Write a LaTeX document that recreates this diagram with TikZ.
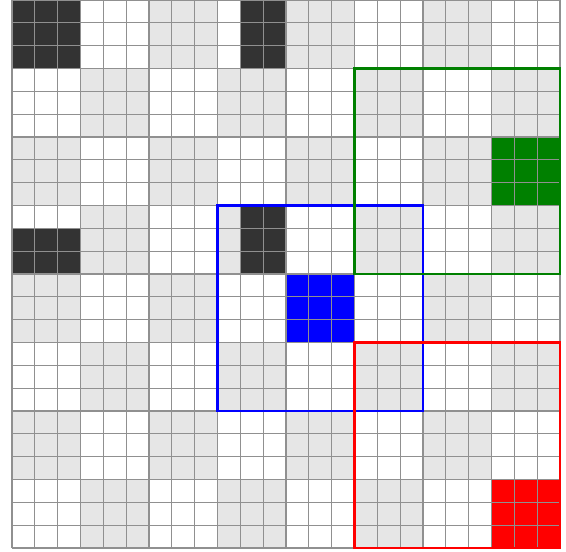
\documentclass[tikz,border=0pt]{standalone}
\definecolor{cellgray}{HTML}{E6E6E6}
\definecolor{celldark}{HTML}{333333}
\definecolor{gridgray}{HTML}{909090}
\definecolor{mygreen}{HTML}{008000}
\tikzset{
  gridline/.style={draw=gridgray, line width=1.5pt},
  regionbox/.style={line width=2.6pt},
}
\begin{document}
\begin{tikzpicture}[x=1cm,y=-1cm]
\useasboundingbox (-0.526,0) rectangle (24.263,24.175);
% checkerboard of 3x3 blocks
\foreach \br in {0,...,7}{
  \foreach \bc in {0,...,7}{
    \pgfmathtruncatemacro{\blockparity}{mod(\br+\bc,2)}
    \ifnum\blockparity=0
      \fill[cellgray] (3*\bc,3*\br) rectangle +(3,3);
    \fi
  }
}
% dark cells
\fill[celldark] (0,0) rectangle (3,3);
\fill[celldark] (10,0) rectangle (12,3);
\fill[celldark] (10,9) rectangle (12,12);
\fill[celldark] (0,10) rectangle (3,12);
% coloured blocks
\fill[blue] (12,12) rectangle (15,15);
\fill[mygreen] (21,6) rectangle (24,9);
\fill[red] (21,21) rectangle (24,24);
% grid
\draw[gridline] (0,0) grid (24,24);
% outlines
\draw[regionbox, draw=blue] (9,9) rectangle (18,18);
\draw[regionbox, draw=mygreen] (15,3) rectangle (24,12);
\draw[regionbox, draw=red] (15,15) rectangle (24,24);
\end{tikzpicture}
\end{document}
